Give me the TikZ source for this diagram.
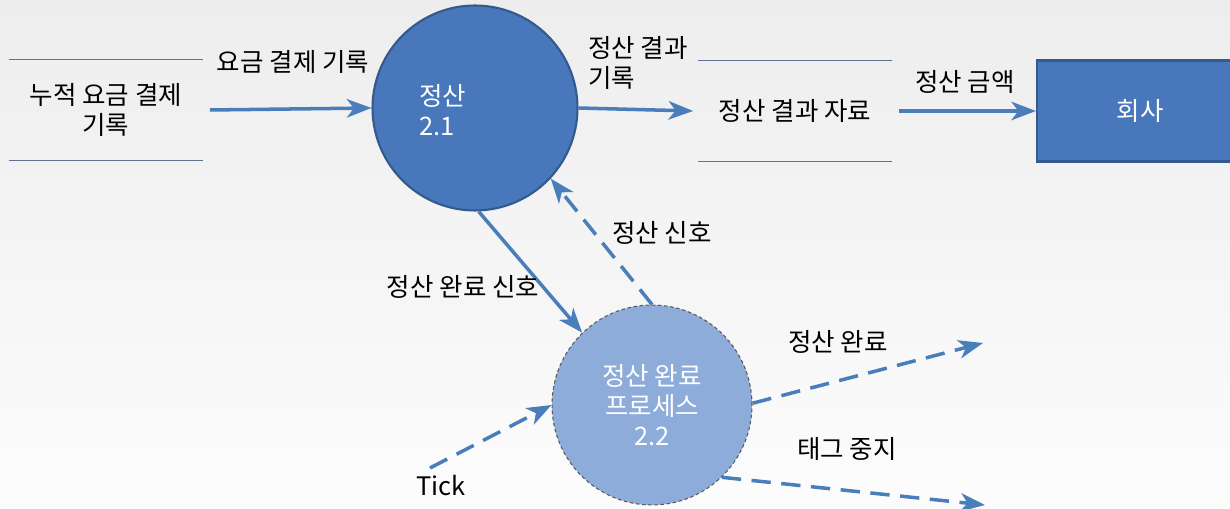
\documentclass[tikz,border=0pt]{standalone}
\usepackage{fontspec}
\setmainfont{Noto Sans CJK KR}
\usetikzlibrary{arrows,arrows.meta}
\definecolor{procblue}{HTML}{4878BB}
\definecolor{procedge}{HTML}{34598C}
\definecolor{lightproc}{HTML}{8EACD9}
\definecolor{flowblue}{HTML}{4A7EBB}
\definecolor{storeline}{HTML}{5E7391}

\begin{document}
\begin{tikzpicture}[x=0.02cm,y=-0.02cm,font=\fontsize{14.5}{17}\selectfont]
  \tikzstyle{proc}=[circle,fill=procblue,draw=procedge,line width=1.2pt,minimum size=4.1cm,inner sep=0pt]
  \tikzstyle{subproc}=[circle,fill=lightproc,draw=black!65,dash pattern=on 2pt off 1.5pt,line width=0.6pt,minimum size=4cm,text=white,align=center]
  \tikzstyle{store}=[minimum width=3.86cm,minimum height=2.02cm,align=center]
  \tikzstyle{entity}=[rectangle,fill=procblue,draw=procedge,line width=1.2pt,minimum width=4.12cm,minimum height=2.02cm,text=white]
  \tikzstyle{flow}=[draw=flowblue,line width=2pt,-{Stealth[length=14pt,width=10.5pt,inset=4pt]}]
  \tikzstyle{sig}=[flow,dash pattern=on 11pt off 6pt]

  % background
  \clip (0,0) rectangle (1230,509);
  \shade[top color=black!7,bottom color=black!1] (0,0) rectangle (1230,509);

  \node[store] (acc) at (106,110) {누적 요금 결제\\기록};
  \node[proc] (settle) at (475,108) {};
  \node[anchor=west,text=white,align=left] (settletxt) at (413,110) {정산\\2.1};
  \node[store] (result) at (795,111) {정산 결과 자료};
  \node[entity] (firm) at (1140,111) {회사};
  \node[subproc] (finish) at (652,405) {정산 완료\\프로세스\\2.2};

  \draw[storeline,line width=0.6pt] (acc.north west) -- (acc.north east) (acc.south west) -- (acc.south east);
  \draw[storeline,line width=0.6pt] (result.north west) -- (result.north east) (result.south west) -- (result.south east);

  \coordinate (tick) at (430,468);
  \coordinate (done) at (983,343);
  \coordinate (stop) at (985,505);

  % flows
  \draw[flow] ([xshift=0.14cm]acc.east) -- (settle.west);
  \draw[flow] (settle.east) -- ([xshift=-0.1cm]result.west);
  \draw[flow] ([xshift=0.14cm]result.east) -- (firm.west);
  \draw[flow] (settle.272) -- (finish.134);
  \draw[sig] (finish.90) -- (settle.-43);
  \draw[sig] (tick) -- (finish.180);
  \draw[sig] (finish.1) -- (done);
  \draw[sig] (finish.-46) -- (stop);

  % labels
  \node (lacc) at (293,62) {요금 결제 기록};
  \node[anchor=west,align=left] (lres) at (582,63) {정산 결과\\기록};
  \node (lamt) at (965,82) {정산 금액};
  \node (ldone) at (463,287) {정산 완료 신호};
  \node (lsig) at (662,233) {정산 신호};
  \node (ltick) at (441,486) {Tick};
  \node (lfin) at (838,342) {정산 완료};
  \node (lstop) at (847,449) {태그 중지};
\end{tikzpicture}
\end{document}
